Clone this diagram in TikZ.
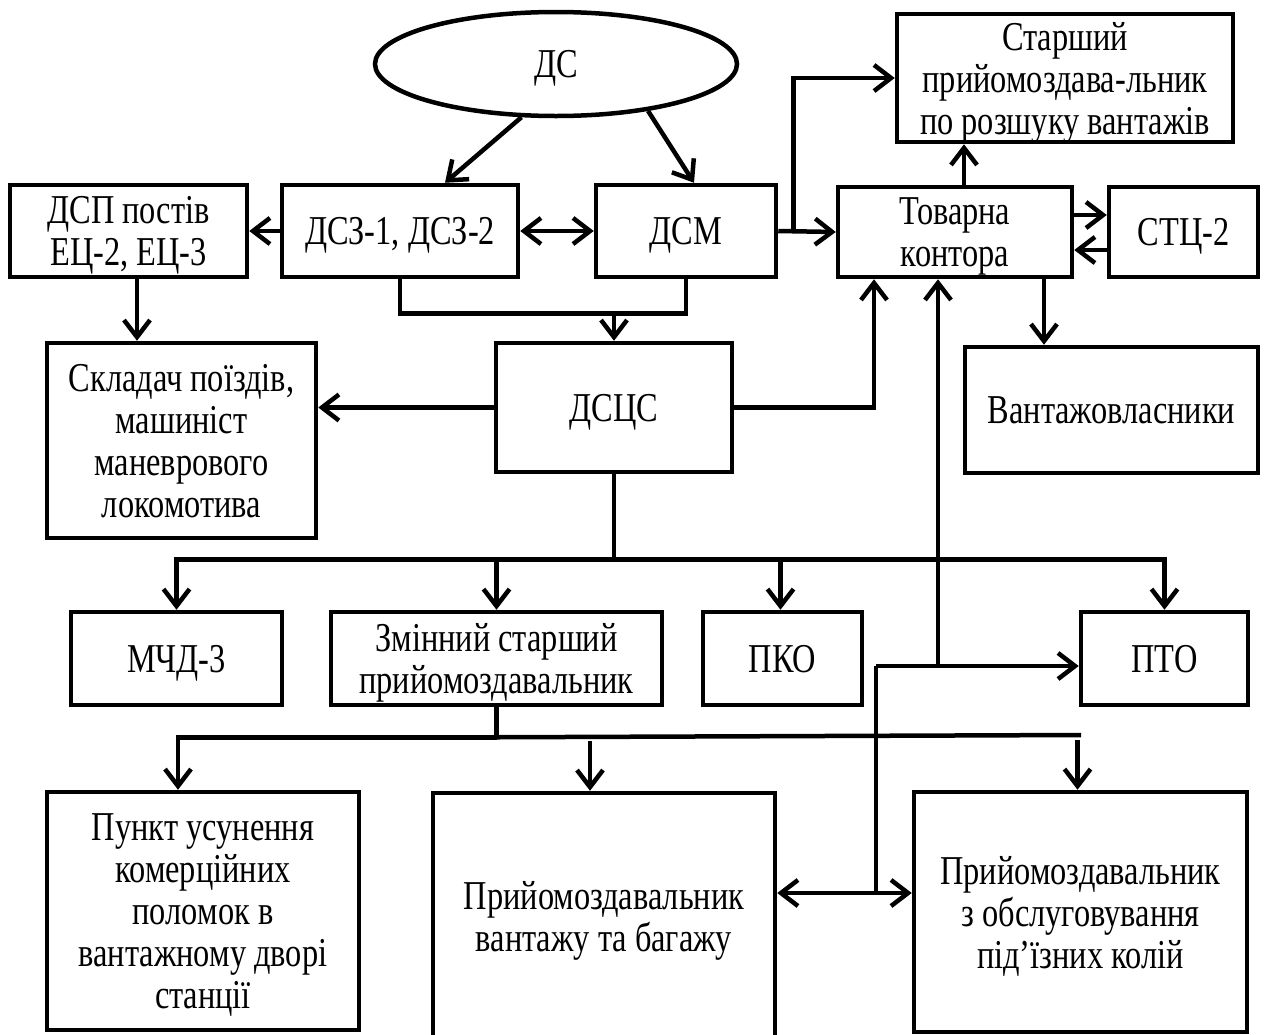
\documentclass[tikz,border=0pt]{standalone}
\usepackage{fontspec}
\setmainfont{Liberation Serif}[FakeStretch=0.79]
\usetikzlibrary{calc,shapes.geometric,arrows.meta}

\begin{document}
\begin{tikzpicture}[x=1pt,y=-1pt,
        line width=4.5pt,
        font=\fontsize{41}{42}\selectfont,
        blok/.style 2 args={draw, rectangle, align=center, inner sep=0pt,
            text depth=-8pt, minimum width=#1, minimum height=#2},
        arr/.style={-{Straight Barb[length=17pt,width=26pt]}},
        darr/.style={{Straight Barb[length=17pt,width=26pt]}-{Straight Barb[length=17pt,width=26pt]}}]
        % frame of the page
        \useasboundingbox (0,0) rectangle (1268,1034);
        \clip (0,0) rectangle (1268,1034);

        % top row
        \node[draw, ellipse, minimum width=362, minimum height=104, inner sep=0pt,
            text depth=-6pt] (ds) at (556,64) {ДС};
        \node[blok={237}{92}] (dsp) at (128.5,231) {ДСП постів\\ЕЦ-2, ЕЦ-3};
        \node[blok={236}{92}] (dsz) at (400,231) {ДСЗ-1, ДСЗ-2};
        \node[blok={180}{92}] (dsm) at (686,231) {ДСМ};
        \node[blok={234}{90}] (tk) at (955,232) {Товарна\\контора};
        \node[blok={149}{90}] (stc) at (1183.5,232) {СТЦ-2};
        \node[blok={336}{128}] (spr) at (1065,78) {Старший\\прийомоздава-льник\\по розшуку вантажів};

        % middle row
        \node[blok={269}{195}] (sklad) at (181.5,440.5) {Складач поїздів,\\машиніст\\маневрового\\локомотива};
        \node[blok={236}{129}] (dscs) at (614,407.5) {ДСЦС};
        \node[blok={293}{126}] (vlasn) at (1111.5,410) {Вантажовласники};

        % row of services
        \node[blok={211}{93}] (mchd) at (176.5,658.5) {МЧД-3};
        \node[blok={331}{93}] (zmin) at (496.5,658.5) {Змінний старший\\прийомоздавальник};
        \node[blok={159}{93}] (pko) at (782.5,658.5) {ПКО};
        \node[blok={167}{93}] (pto) at (1164.5,658.5) {ПТО};

        % bottom row
        \node[blok={312}{238}] (punkt) at (203,911) {Пункт усунення\\комерційних\\поломок в\\вантажному дворі\\станції};
        \node[blok={342}{247}] (prv) at (604,916.5) {Прийомоздавальник\\вантажу та багажу};
        \node[blok={333}{240}] (pro) at (1080.5,912) {Прийомоздавальник\\з обслуговування\\під’їзних колій};

        % from ДС
        \draw[arr] (ds.237) -- ($(dsz.north)+(45,0)$);
        \draw[arr] (ds.333) -- ($(dsm.north)+(8,0)$);

        % top row links
        \draw[arr] (dsz.west) -- (dsp.east);
        \draw[darr] (dsz.east) -- (dsm.west);
        \draw[arr] (dsm.east) -- (tk.west);
        \draw[arr] ($(dsm.east)+(15,0)$) |- (spr.west);
        \coordinate (tkn) at ($(tk.north)+(9,0)$);
        \draw[arr] (tkn) -- (tkn |- spr.south);
        \draw[arr] ($(tk.east)+(0,-17)$) -- ($(stc.west)+(0,-17)$);
        \draw[arr] ($(stc.west)+(0,18)$) -- ($(tk.east)+(0,18)$);
        \coordinate (tks) at ($(tk.south)+(89,0)$);
        \draw[arr] (tks) -- (tks |- vlasn.north);

        % down to ДСЦС and Складач
        \coordinate (dsps) at ($(dsp.south)+(8.5,0)$);
        \draw[arr] (dsps) -- (dsps |- sklad.north);
        \draw (dsz.south) -- ++(0,34) coordinate (mid) -| (dsm.south);
        \draw[arr] (mid -| dscs.north) -- (dscs.north);
        \draw[arr] (dscs.west) -- (dscs.west -| sklad.east);
        \draw[arr] (dscs.east) -| ($(tk.south)+(-81,0)$);

        % bus under ДСЦС
        \draw (dscs.south) -- ++(0,85) coordinate (bus);
        \draw[arr] (bus) -| (mchd.north);
        \draw[arr] (bus) -| (pto.north);
        \draw[arr] (bus -| zmin.north) -- (zmin.north);
        \draw[arr] ($(bus -| pko.north)+(-2,0)$) -- ($(pko.north)+(-2,0)$);

        % Товарна контора down to ПТО and the receivers
        \coordinate (hub) at (938,666);
        \coordinate (hubw) at (876,666);
        \coordinate (jn) at (876,893);
        \draw[arr] (hub) -- (hub |- tk.south);
        \draw[arr] (hubw) -- (hubw -| pto.west);
        \draw (hubw) -- (jn);
        \draw[arr] (jn) -- (jn -| prv.east);
        \draw[arr] (jn) -- (jn -| pro.west);

        % bus under Змінний
        \draw (zmin.south) -- ++(0,30) coordinate (bus2);
        \coordinate (pn) at ($(punkt.north)+(-25,0)$);
        \draw[arr] (bus2) -| (pn);
        \draw (bus2) -- (1081,735);
        \draw[arr] ($(prv.north)+(-14,-50)$) -- ($(prv.north)+(-14,0)$);
        \draw[arr] ($(pro.north)+(-3,-50)$) -- ($(pro.north)+(-3,0)$);
\end{tikzpicture}
\end{document}
